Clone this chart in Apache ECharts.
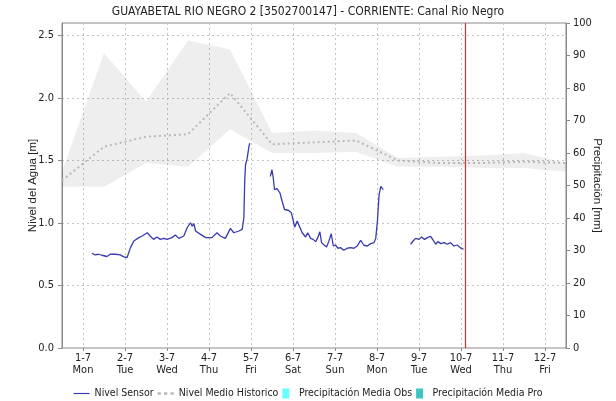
<!DOCTYPE html>
<html>
<head>
<meta charset="utf-8">
<script src="https://cdn.jsdelivr.net/npm/echarts@6/dist/echarts.min.js"></script>
<style>
  html, body { margin: 0; padding: 0; background: #fff; }
  #chart { width: 616px; height: 401px; }
</style>
</head>
<body>
<div id="chart"></div>
<script>
// dias del eje x (0 = 1-7 00:00)
const dayLabels = ['1-7\nMon', '2-7\nTue', '3-7\nWed', '4-7\nThu', '5-7\nFri', '6-7\nSat',
  '7-7\nSun', '8-7\nMon', '9-7\nTue', '10-7\nWed', '11-7\nThu', '12-7\nFri']

// nivel historico (medio, min, max) al mediodia de cada dia
const histDays   = [-0.5, 0.5, 1.5, 2.5, 3.5, 4.5, 5.5, 6.5, 7.5, 8.5, 9.5, 10.5, 11.5]
const histUpper  = [1.41, 2.36, 1.97, 2.46, 2.39, 1.72, 1.74, 1.72, 1.52, 1.53, 1.54, 1.56, 1.48]
const histLower  = [1.29, 1.29, 1.48, 1.45, 1.75, 1.56, 1.56, 1.57, 1.45, 1.45, 1.44, 1.44, 1.41]
const histMedian = [1.34, 1.61, 1.69, 1.71, 2.04, 1.63, 1.645, 1.66, 1.50, 1.48, 1.48, 1.49, 1.48]

// nivel sensor [dia, m], tres tramos con huecos
const sensorA = [[0.21, 0.758], [0.29, 0.745], [0.37, 0.750], [0.45, 0.742], [0.57, 0.732], [0.65, 0.750],
  [0.77, 0.750], [0.89, 0.745], [0.97, 0.729], [1.05, 0.724], [1.13, 0.803], [1.21, 0.856], [1.25, 0.869],
  [1.33, 0.883], [1.41, 0.896], [1.45, 0.888], [1.53, 0.922], [1.60, 0.896], [1.68, 0.869], [1.76, 0.888],
  [1.84, 0.869], [1.92, 0.877], [2.00, 0.869], [2.12, 0.883], [2.20, 0.904], [2.28, 0.877], [2.40, 0.896],
  [2.48, 0.962], [2.56, 1.002], [2.60, 0.975], [2.64, 0.994], [2.68, 0.936], [2.80, 0.909], [2.92, 0.883],
  [3.07, 0.883], [3.19, 0.922], [3.27, 0.896], [3.39, 0.877], [3.51, 0.957], [3.59, 0.922], [3.71, 0.936],
  [3.79, 0.949], [3.83, 1.042], [3.85, 1.333], [3.87, 1.466], [3.91, 1.519], [3.95, 1.611], [3.97, 1.638]]
const sensorB = [[4.46, 1.373], [4.50, 1.426], [4.53, 1.360], [4.56, 1.267], [4.62, 1.275], [4.69, 1.240],
  [4.74, 1.174], [4.80, 1.108], [4.90, 1.100], [4.96, 1.081], [5.00, 1.028], [5.04, 0.967], [5.10, 1.015],
  [5.16, 0.967], [5.22, 0.922], [5.30, 0.888], [5.35, 0.922], [5.42, 0.877], [5.48, 0.869], [5.54, 0.851],
  [5.59, 0.883], [5.64, 0.930], [5.68, 0.843], [5.74, 0.824], [5.80, 0.808], [5.85, 0.851], [5.91, 0.914],
  [5.96, 0.816], [6.01, 0.824], [6.07, 0.798], [6.13, 0.803], [6.21, 0.782], [6.29, 0.798], [6.37, 0.803],
  [6.45, 0.798], [6.53, 0.816], [6.61, 0.861], [6.69, 0.822], [6.77, 0.816], [6.85, 0.835], [6.93, 0.843],
  [6.97, 0.877], [7.01, 1.015], [7.05, 1.227], [7.09, 1.293], [7.13, 1.275], [7.15, 1.267]]
const sensorC = [[7.80, 0.830], [7.86, 0.856], [7.92, 0.877], [8.00, 0.869], [8.06, 0.888], [8.13, 0.869],
  [8.20, 0.883], [8.28, 0.893], [8.34, 0.861], [8.40, 0.830], [8.45, 0.851], [8.52, 0.835], [8.60, 0.843],
  [8.67, 0.830], [8.75, 0.843], [8.83, 0.816], [8.91, 0.824], [8.98, 0.803], [9.06, 0.790]]

const nowDay = 9.09

const FONT = "'Liberation Sans Narrow', 'DejaVu Sans Condensed', 'Liberation Sans', sans-serif"
const FONT_WIDE = "'Liberation Sans', Arial, sans-serif"
const sensorColor = '#3b3bb0'
const medianColor = '#b8b8b8'
const nowColor = '#d8302a'

const chart = echarts.init(document.getElementById('chart'))

const sensorSeries = (data) => ({
  name: 'Nivel Sensor',
  type: 'line',
  xAxisIndex: 1,
  data: data,
  symbol: 'none',
  color: sensorColor,
  lineStyle: { color: sensorColor, width: 1.3 },
  z: 4
})

// banda min-max historica como un poligono
const renderBand = (params, api) => {
  if (params.dataIndex !== 0) return null
  const top = histDays.map((d, i) => api.coord([d, histUpper[i]]))
  const bottom = histDays.map((d, i) => api.coord([d, histLower[i]])).reverse()
  return {
    type: 'polygon',
    shape: { points: top.concat(bottom) },
    style: { fill: 'rgba(0,0,0,0.068)' },
    silent: true
  }
}

const lineIcon = 'path://M0,0H18V1.3H0Z'
const dotIcon = 'path://M0,0H2.5V2H0ZM5,0H7.5V2H5ZM10,0H12.5V2H10Z'
const barIcon = 'path://M0,0H7V10H0Z'

chart.setOption({
  animation: false,
  textStyle: { fontFamily: FONT },
  title: {
    text: 'GUAYABETAL RIO NEGRO 2 [3502700147] - CORRIENTE: Canal Rio Negro',
    left: 'center',
    top: 1,
    textStyle: { fontSize: 12, fontWeight: 'normal', color: '#222', fontFamily: FONT }
  },
  legend: {
    bottom: -3,
    left: 'center',
    itemWidth: 16,
    itemHeight: 10,
    itemGap: 4,
    textStyle: { fontSize: 10.5, color: '#222', fontFamily: FONT },
    data: [
      { name: 'Nivel Sensor', icon: lineIcon },
      { name: 'Nivel Medio Historico', icon: dotIcon },
      { name: 'Precipitación Media Obs', icon: barIcon },
      { name: 'Precipitación Media Pro', icon: barIcon }
    ]
  },
  grid: {
    left: 62, right: 50, top: 23, bottom: 53,
    outerBoundsMode: 'none',
    show: true, borderColor: '#8a8a8a', borderWidth: 1
  },
  xAxis: [
    {
      type: 'category',
      data: dayLabels,
      boundaryGap: true,
      axisLine: { show: false },
      axisTick: { show: true, alignWithLabel: true, length: 3, lineStyle: { color: '#888' } },
      axisLabel: { color: '#222', fontSize: 11, lineHeight: 12, margin: 4 },
      splitLine: { show: true, alignWithLabel: true, lineStyle: { color: '#c4c4c4', type: [2, 3] } }
    },
    {
      type: 'value',
      min: -0.5,
      max: 11.5,
      show: false
    }
  ],
  yAxis: [
    {
      type: 'value',
      min: 0,
      max: 2.6,
      interval: 0.5,
      name: 'Nivel del Agua [m]',
      nameLocation: 'middle',
      nameGap: 23,
      nameMoveOverlap: false,
      nameTextStyle: { color: '#222', fontSize: 11.5, fontFamily: FONT_WIDE },
      axisLine: { show: true, onZero: false, lineStyle: { color: '#8a8a8a' } },
      axisTick: { show: true, length: 4, lineStyle: { color: '#8a8a8a' } },
      axisLabel: { color: '#222', fontSize: 11, margin: 8, showMaxLabel: false, formatter: v => v.toFixed(1) },
      splitLine: { show: true, lineStyle: { color: '#c4c4c4', type: [2, 3] } }
    },
    {
      type: 'value',
      min: 0,
      max: 100,
      interval: 10,
      position: 'right',
      name: 'Precipitación [mm]',
      nameLocation: 'middle',
      nameGap: 25,
      nameRotate: -90,
      nameMoveOverlap: false,
      nameTextStyle: { color: '#222', fontSize: 11.5, fontFamily: FONT_WIDE },
      axisLine: { show: true, onZero: false, lineStyle: { color: '#8a8a8a' } },
      axisTick: { show: true, length: 4, lineStyle: { color: '#8a8a8a' } },
      axisLabel: { color: '#222', fontSize: 11, margin: 7 },
      splitLine: { show: false }
    }
  ],
  series: [
    {
      name: 'banda',
      type: 'custom',
      xAxisIndex: 1,
      data: histDays.map((d, i) => [d, histLower[i], histUpper[i]]),
      encode: { x: 0, y: [1, 2] },
      renderItem: renderBand,
      silent: true,
      z: 1
    },
    {
      name: 'Nivel Medio Historico',
      type: 'line',
      xAxisIndex: 1,
      data: histDays.map((d, i) => [d, histMedian[i]]),
      symbol: 'none',
      color: medianColor,
      lineStyle: { color: medianColor, width: 2, type: [2, 3] },
      z: 2
    },
    sensorSeries(sensorA),
    sensorSeries(sensorB),
    sensorSeries(sensorC),
    {
      name: 'ahora',
      type: 'line',
      xAxisIndex: 1,
      data: [],
      color: nowColor,
      z: 5,
      markLine: {
        silent: true,
        symbol: 'none',
        label: { show: false },
        lineStyle: { color: nowColor, width: 1.2, type: 'solid', opacity: 1 },
        emphasis: { disabled: true },
        data: [{ xAxis: nowDay }]
      }
    },
    {
      name: 'Precipitación Media Obs',
      type: 'bar',
      xAxisIndex: 1,
      yAxisIndex: 1,
      data: [],
      color: '#66ffff'
    },
    {
      name: 'Precipitación Media Pro',
      type: 'bar',
      xAxisIndex: 1,
      yAxisIndex: 1,
      data: [],
      color: '#3ec4c4'
    }
  ]
})
</script>
</body>
</html>
